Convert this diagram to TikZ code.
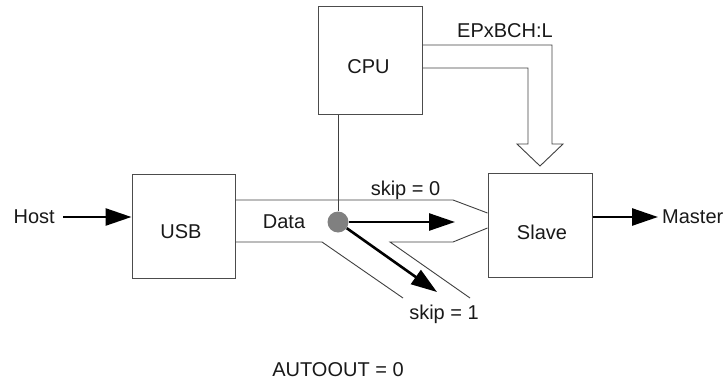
\documentclass[tikz,border=0pt]{standalone}
\usepackage{fontspec}
\setmainfont{Liberation Sans}
\usetikzlibrary{arrows.meta}
\begin{document}
\begin{tikzpicture}[x=1pt,y=-1pt,
  every node/.style={font=\fontsize{20}{24}\selectfont, text=black!90},
  blk/.style={draw=black!70, line width=1pt, rectangle, inner sep=0pt},
  thin/.style={draw=black!75, line width=0.9pt},
  bigarrow/.style={line width=2.6pt, -{Triangle[length=26pt,width=17pt]}},
  lbl/.style={inner sep=0pt}]
\useasboundingbox (0,0) rectangle (727,385);
% boxes
\node[blk, minimum width=103pt, minimum height=104pt] (usb) at (183.5,226) {};
\node[blk, minimum width=104pt, minimum height=104pt] (slave) at (540,225) {};
\node[blk, minimum width=104pt, minimum height=107pt] (cpu) at (370,60.5) {};
% box texts
\node[lbl] (usbt) at (181,232) {USB};
\node[lbl] (slavet) at (542,232) {Slave};
\node[lbl] (cput) at (368.5,67) {CPU};
\node[lbl] (ep) at (505,31) {EPxBCH:L};
\node[lbl] (data) at (284,222) {Data};
\node[lbl] (sk0) at (405.5,190) {skip = 0};
\node[lbl] (sk1) at (444,314) {skip = 1};
\node[lbl] (auto) at (338,370) {AUTOOUT = 0};
\node[lbl, anchor=east] (host) at (55,217) {Host};
\node[lbl, anchor=west] (master) at (662,217) {Master};
% data channel
\draw[thin] (usb.east |- 0,200) -- (453,200) -- (slave.west |- 0,213);
\draw[thin] (slave.west |- 0,228) -- (453,242) -- (390,242) -- (470,298);
\draw[thin] (usb.east |- 0,242) -- (322,242) -- (403,298);
% CPU hollow arrow
\draw[thin] (cpu.east |- 0,45) -- (552,45) -- (552,144) -- (563,144) -- (540,166)
  -- (517,144) -- (528,144) -- (528,68) -- (cpu.east |- 0,68);
% junction
\node[circle, fill=black!50, minimum size=21pt, inner sep=0pt] (dot) at (338,222) {};
\draw[thin] (dot.north) -- (dot.north |- cpu.south);
\coordinate (s0) at (455,222);
\coordinate (s1) at (437,292);
\draw[bigarrow] (dot.east) -- (s0);
\draw[bigarrow] (dot) -- (s1);
% host / master
\draw[bigarrow] ([xshift=8pt]host.east) -- (host.east -| usb.west);
\draw[bigarrow] (slave.east |- master.west) -- ([xshift=-4pt]master.west);
\end{tikzpicture}
\end{document}
